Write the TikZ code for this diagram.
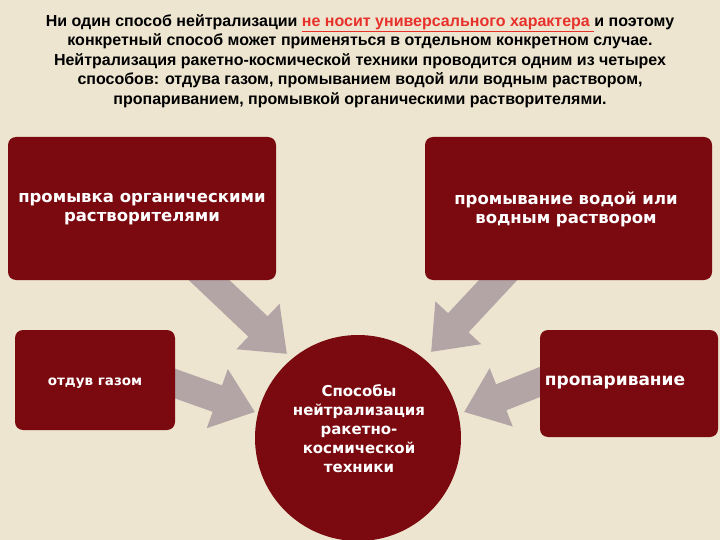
\documentclass[tikz,border=0pt]{standalone}
\usepackage{fontspec}
\setmainfont{Liberation Sans}
\newfontfamily\boxfont{DejaVu Sans}
\usetikzlibrary{arrows.meta,shadows}
\definecolor{bg}{HTML}{EDE5D0}
\definecolor{dred}{HTML}{7A0A10}
\definecolor{arr}{HTML}{B3A4A6}
\definecolor{lnk}{HTML}{E8312B}
\begin{document}
\begin{tikzpicture}[x=1pt,y=-1pt,
  blk/.style={fill=dred,rounded corners=8pt,draw=none},
  lbl/.style={text=white,font=\boxfont\bfseries\fontsize{16.5}{19}\selectfont,align=center},
  bigarrow/.style={draw=arr,line width=28pt,-{Triangle[width=60pt,length=40pt]}}]
\useasboundingbox (0,0) rectangle (720,540);
\clip (0,0) rectangle (720,540);
\fill[bg] (0,0) rectangle (720,540);
% arrows
\coordinate (a1s) at (190,262); \coordinate (a1e) at (287,354);
\coordinate (a2s) at (515,262); \coordinate (a2e) at (431,352);
\coordinate (a3s) at (165,380); \coordinate (a3e) at (255,412);
\coordinate (a4s) at (550,378); \coordinate (a4e) at (464,412);
\draw[bigarrow] (a1s) -- (a1e);
\draw[bigarrow] (a2s) -- (a2e);
\draw[bigarrow] (a3s) -- (a3e);
\draw[bigarrow] (a4s) -- (a4e);
% boxes
\node[blk,minimum width=268pt,minimum height=143pt] (tl) at (142,208.5) {};
\node[blk,minimum width=287pt,minimum height=143pt] (tr) at (568.5,208.5) {};
\node[blk,minimum width=160pt,minimum height=100pt] (ml) at (95,380) {};
\node[blk,minimum width=178pt,minimum height=107pt] (mr) at (629,383.5) {};
\node[circle,fill=dred,minimum size=206pt,inner sep=0] (c) at (358,438) {};
% labels
\node[lbl] (t1) at (142,209) {промывка органическими\\растворителями};
\node[lbl] (t2) at (566,209) {промывание водой или\\водным раствором};
\node[lbl,font=\boxfont\bfseries\fontsize{13.5}{15}\selectfont] (t3) at (95,383) {отдув газом};
\node[lbl,font=\boxfont\bfseries\fontsize{17}{19}\selectfont] (t4) at (615,383) {пропаривание};
\node[lbl,font=\boxfont\bfseries\fontsize{15}{19}\selectfont] (t5) at (359,429) {Способы\\нейтрализация\\ракетно-\\космической\\техники};
% top text
\node[align=center,font=\bfseries\fontsize{16}{19.5}\selectfont,inner sep=0] (top) at (360,61)
{Ни один способ нейтрализации \textcolor{lnk}{\underline{не носит универсального характера }}и поэтому\\
конкретный способ может применяться в отдельном конкретном случае.\\
Нейтрализация ракетно-космической техники проводится одним из четырех\\
способов: отдува газом, промыванием водой или водным раствором,\\
пропариванием, промывкой органическими растворителями.};
\end{tikzpicture}
\end{document}
